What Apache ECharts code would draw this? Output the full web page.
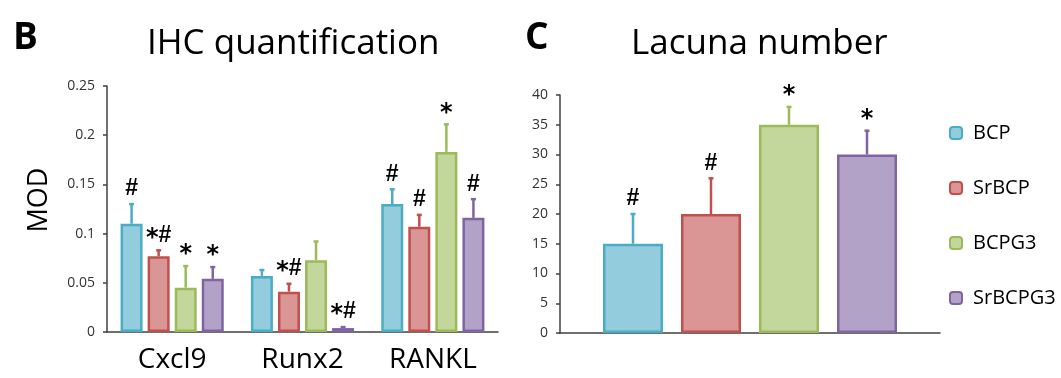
<!DOCTYPE html>
<html>
<head>
<meta charset="utf-8">
<script src="https://cdn.jsdelivr.net/npm/echarts@6/dist/echarts.min.js"></script>
<style>
html,body{margin:0;padding:0;background:#fff;}
#chart{width:1061px;height:378px;}
</style>
</head>
<body>
<div id="chart"></div>
<script>
// ---- data ----
const groups = ['BCP', 'SrBCP', 'BCPG3', 'SrBCPG3'];
const ihcCategories = ['Cxcl9', 'Runx2', 'RANKL'];
const ihcBCP      = [0.110, 0.057, 0.130];
const ihcSrBCP    = [0.077, 0.041, 0.107];
const ihcBCPG3    = [0.045, 0.073, 0.183];
const ihcSrBCPG3  = [0.054, 0.004, 0.116];
const ihcErrBCP     = [0.130, 0.063, 0.145];
const ihcErrSrBCP   = [0.083, 0.049, 0.119];
const ihcErrBCPG3   = [0.067, 0.092, 0.211];
const ihcErrSrBCPG3 = [0.066, 0.005, 0.135];
const ihcMarkBCP     = ['#', '', '#'];
const ihcMarkSrBCP   = ['*#', '*#', '#'];
const ihcMarkBCPG3   = ['*', '', '*'];
const ihcMarkSrBCPG3 = ['*', '*#', '#'];
const ihcTicks = [0, 0.05, 0.1, 0.15, 0.2, 0.25];

const lacunaCategories = [''];
const lacunaBCP = [15], lacunaSrBCP = [20], lacunaBCPG3 = [35], lacunaSrBCPG3 = [30];
const lacunaErrBCP = [20], lacunaErrSrBCP = [26], lacunaErrBCPG3 = [38], lacunaErrSrBCPG3 = [34];
const lacunaMarkBCP = ['#'], lacunaMarkSrBCP = ['#'], lacunaMarkBCPG3 = ['*'], lacunaMarkSrBCPG3 = ['*'];
const lacunaTicks = [0, 5, 10, 15, 20, 25, 30, 35, 40];

// ---- styles ----
const fills   = ['#93CDDD', '#D99694', '#C3D69B', '#B3A2C7'];
const borders = ['#4BACC6', '#C0504D', '#9BBB59', '#8064A2'];
const FONT = '"Open Sans", Lato, sans-serif';

const ihcVals = [ihcBCP, ihcSrBCP, ihcBCPG3, ihcSrBCPG3];
const ihcErrs = [ihcErrBCP, ihcErrSrBCP, ihcErrBCPG3, ihcErrSrBCPG3];
const ihcMarks = [ihcMarkBCP, ihcMarkSrBCP, ihcMarkBCPG3, ihcMarkSrBCPG3];
const lacVals = [lacunaBCP, lacunaSrBCP, lacunaBCPG3, lacunaSrBCPG3];
const lacErrs = [lacunaErrBCP, lacunaErrSrBCP, lacunaErrBCPG3, lacunaErrSrBCPG3];
const lacMarks = [lacunaMarkBCP, lacunaMarkSrBCP, lacunaMarkBCPG3, lacunaMarkSrBCPG3];

const chart = echarts.init(document.getElementById('chart'));

function barSeries(name, vals, idx, axisIdx, bw, gap) {
  return {
    type: 'bar', name: name, data: vals,
    xAxisIndex: axisIdx, yAxisIndex: axisIdx,
    barWidth: bw, barGap: gap,
    itemStyle: { color: fills[idx], borderColor: borders[idx], borderWidth: 2.5 },
    emphasis: { disabled: true },
    z: 2
  };
}

function markText(mark) {
  return mark.split('').map(c => c === '*' ? '{s|*}' : '{h|#}').join('');
}

function errSeries(name, vals, errs, marks, idx, axisIdx, bw, gapRatio) {
  const step = bw * (1 + gapRatio);
  const offset = (idx - 1.5) * step;
  return {
    type: 'custom', name: name + ' err',
    xAxisIndex: axisIdx, yAxisIndex: axisIdx,
    data: errs.map((e, i) => [i, e, vals[i]]),
    encode: { x: 0, y: 1 },
    z: 3, silent: true,
    renderItem: function (params, api) {
      const top = api.coord([api.value(0), api.value(1)]);
      const base = api.coord([api.value(0), api.value(2)]);
      const x = top[0] + offset;
      const mark = marks[params.dataIndex];
      const children = [
        { type: 'line', shape: { x1: x, y1: base[1], x2: x, y2: top[1] },
          style: { stroke: borders[idx], lineWidth: 2.5 } },
        { type: 'line', shape: { x1: x - 2.5, y1: top[1], x2: x + 2.5, y2: top[1] },
          style: { stroke: borders[idx], lineWidth: 2.5 } }
      ];
      if (mark) {
        children.push({ type: 'text', x: x, y: top[1] - 2,
          style: { text: markText(mark), fill: '#000', align: 'center', verticalAlign: 'bottom',
            rich: {
              s: { fontFamily: '"DejaVu Sans", sans-serif', fontWeight: 'bold', fontSize: 24, lineHeight: 24, padding: [6, 0, 0, 0], fill: '#000' },
              h: { fontFamily: '"Liberation Sans", sans-serif', fontWeight: 'bold', fontSize: 23, lineHeight: 26, fill: '#000' }
            } } });
      }
      return { type: 'group', children: children };
    }
  };
}

const series = [];
groups.forEach((g, i) => series.push(barSeries(g, ihcVals[i], i, 0, 22, '23%')));
groups.forEach((g, i) => series.push(barSeries(g, lacVals[i], i, 1, 60, '30%')));
groups.forEach((g, i) => series.push(errSeries(g, ihcVals[i], ihcErrs[i], ihcMarks[i], i, 0, 22, 0.23)));
groups.forEach((g, i) => series.push(errSeries(g, lacVals[i], lacErrs[i], lacMarks[i], i, 1, 60, 0.30)));

const axisLineStyle = { color: '#404040', width: 1.5 };

chart.setOption({
  animation: false,
  backgroundColor: '#fff',
  title: [
    { text: 'B', left: 13, top: 20, padding: 0, textStyle: { fontFamily: FONT, fontSize: 37, fontWeight: 'bold', color: '#000' } },
    { text: 'IHC quantification', left: 147, top: 27, padding: 0, textStyle: { fontFamily: FONT, fontSize: 35, fontWeight: 'normal', color: '#000' } },
    { text: 'C', left: 525, top: 20, padding: 0, textStyle: { fontFamily: FONT, fontSize: 37, fontWeight: 'bold', color: '#000' } },
    { text: 'Lacuna number', left: 631, top: 27, padding: 0, textStyle: { fontFamily: FONT, fontSize: 35, fontWeight: 'normal', color: '#000' } }
  ],
  legend: {
    data: groups, orient: 'vertical', left: 944, top: 118,
    itemWidth: 12, itemHeight: 12, itemGap: 35, icon: 'roundRect',
    textStyle: { fontFamily: FONT, fontSize: 20, color: '#000', padding: [0, 0, 0, 6] },
    selectedMode: false
  },
  grid: [
    { left: 107, right: 563, top: 86, bottom: 46 },
    { left: 560, right: 121, top: 95, bottom: 45 }
  ],
  xAxis: [
    { type: 'category', gridIndex: 0, data: ihcCategories,
      axisLine: { lineStyle: axisLineStyle }, axisTick: { show: false },
      axisLabel: { fontFamily: FONT, fontSize: 28, color: '#000', margin: 14 } },
    { type: 'category', gridIndex: 1, data: lacunaCategories,
      axisLine: { lineStyle: axisLineStyle }, axisTick: { show: false },
      axisLabel: { show: false } }
  ],
  yAxis: [
    { type: 'value', gridIndex: 0, min: ihcTicks[0], max: ihcTicks[ihcTicks.length - 1], interval: ihcTicks[1] - ihcTicks[0],
      name: 'MOD', nameLocation: 'middle', nameGap: 54, nameRotate: 90,
      nameTextStyle: { fontFamily: FONT, fontSize: 27, color: '#000', padding: [0, 0, 0, 18] },
      axisLine: { show: true, lineStyle: axisLineStyle },
      axisTick: { show: true, length: 4, lineStyle: axisLineStyle },
      splitLine: { show: false },
      axisLabel: { fontFamily: FONT, fontSize: 14, color: '#333', margin: 12 } },
    { type: 'value', gridIndex: 1, min: lacunaTicks[0], max: lacunaTicks[lacunaTicks.length - 1], interval: lacunaTicks[1] - lacunaTicks[0],
      axisLine: { show: true, lineStyle: axisLineStyle },
      axisTick: { show: true, length: 4, lineStyle: axisLineStyle },
      splitLine: { show: false },
      axisLabel: { fontFamily: FONT, fontSize: 14, color: '#333', margin: 12 } }
  ],
  series: series
});
</script>
</body>
</html>
